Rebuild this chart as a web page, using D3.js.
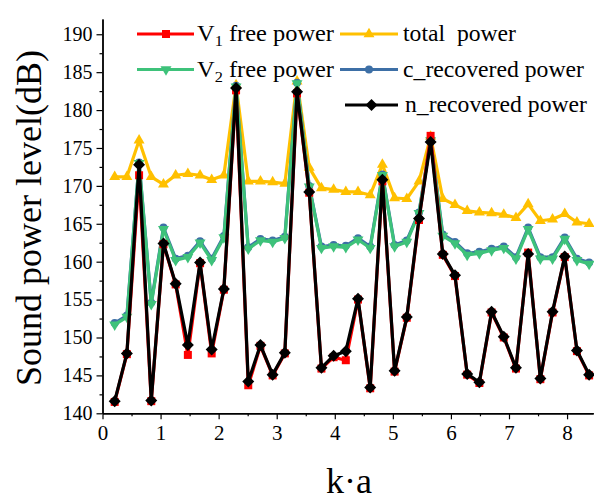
<!DOCTYPE html>
<html>
<head>
<meta charset="utf-8">
<script src="https://cdn.jsdelivr.net/npm/d3@7"></script>
<style>
  html, body { margin: 0; padding: 0; background: #fff; }
  svg { display: block; }
  text { font-family: "Liberation Serif", "Times New Roman", serif; fill: #000; white-space: pre; }
</style>
</head>
<body>
<svg id="chart" width="594" height="500"></svg>
<script>
// Dimensionless frequency k·a
const ka = [0.21, 0.42, 0.63, 0.84, 1.05, 1.26, 1.47, 1.68, 1.88, 2.09,
            2.30, 2.51, 2.72, 2.93, 3.14, 3.35, 3.56, 3.77, 3.98, 4.19,
            4.40, 4.61, 4.82, 5.03, 5.24, 5.45, 5.65, 5.86, 6.07, 6.28,
            6.49, 6.70, 6.91, 7.12, 7.33, 7.54, 7.75, 7.96, 8.17, 8.38];

// Sound power levels (dB)
const totalPower = [171.2, 171.2, 176.0, 171.2, 170.2, 171.4, 171.6, 171.4, 170.8, 171.4,
                    183.3, 170.6, 170.6, 170.5, 170.3, 183.8, 172.4, 169.7, 169.5, 169.2,
                    169.2, 168.8, 172.8, 168.4, 168.3, 170.6, 176.5, 168.3, 167.5, 166.7,
                    166.5, 166.4, 166.2, 165.8, 167.6, 165.4, 165.6, 166.3, 165.2, 165.0];

const v2Free = [151.7, 152.7, 173.0, 154.4, 164.3, 160.2, 160.6, 162.5, 160.2, 163.2,
                183.1, 161.7, 162.8, 162.6, 163.1, 183.5, 169.9, 161.8, 162.0, 161.9,
                162.9, 161.8, 171.4, 162.0, 162.6, 166.4, 176.0, 163.4, 162.4, 160.9,
                161.1, 161.5, 161.8, 160.4, 164.3, 160.4, 160.4, 163.0, 160.2, 159.7];

const cRecovered = [151.9, 152.9, 173.1, 154.6, 164.5, 160.4, 160.8, 162.7, 160.4, 163.4,
                    183.2, 161.9, 163.0, 162.8, 163.3, 183.6, 170.0, 162.0, 162.2, 162.1,
                    163.1, 162.0, 171.5, 162.2, 162.8, 166.5, 176.1, 163.6, 162.6, 161.1,
                    161.3, 161.7, 162.0, 160.6, 164.5, 160.6, 160.6, 163.2, 160.4, 159.9];

const v1Free = [141.5, 147.8, 171.4, 141.6, 162.3, 157.0, 147.7, 159.8, 147.9, 156.3,
                182.6, 143.7, 148.9, 145.0, 147.9, 182.2, 169.1, 145.9, 147.4, 147.0,
                155.0, 143.3, 170.6, 145.5, 152.6, 165.5, 176.6, 160.9, 158.1, 145.1,
                144.0, 153.3, 150.0, 145.9, 161.2, 144.5, 153.3, 160.6, 148.2, 145.0];

const nRecovered = [141.6, 147.9, 172.8, 141.7, 162.4, 157.1, 149.0, 159.9, 148.4, 156.4,
                    182.9, 144.2, 149.0, 145.1, 148.0, 182.4, 169.2, 146.0, 147.6, 148.2,
                    155.1, 143.4, 170.8, 145.6, 152.7, 165.7, 175.8, 161.0, 158.2, 145.2,
                    144.1, 153.4, 150.1, 146.0, 161.0, 144.6, 153.4, 160.7, 148.3, 145.1];

// Axis ticks
const xTicks = [0, 1, 2, 3, 4, 5, 6, 7, 8];
const xMinorTicks = [0.5, 1.5, 2.5, 3.5, 4.5, 5.5, 6.5, 7.5];
const yTicks = [140, 145, 150, 155, 160, 165, 170, 175, 180, 185, 190];
const yMinorTicks = [142.5, 147.5, 152.5, 157.5, 162.5, 167.5, 172.5, 177.5, 182.5, 187.5];

const svg = d3.select("#chart");
const SERIF = "Liberation Serif, Times New Roman, serif";

const x = d3.scaleLinear().domain([0, 8.45]).range([102.5, 593.2]);
const y = d3.scaleLinear().domain([140, 192]).range([413.3, 19.1]);

// Series styling, listed in drawing order (back to front)
const series = [
  { name: "total  power",      values: totalPower, color: "#ffc000", shape: "triUp",   legend: [340, 34, 403] },
  { name: "c_recovered power", values: cRecovered, color: "#3d6fa6", shape: "circle",  legend: [340, 69.5, 403] },
  { name: "V2 free power",     values: v2Free,     color: "#3ec27a", shape: "triDown", legend: [137, 69.5, 197], sub: "2" },
  { name: "V1 free power",     values: v1Free,     color: "#ff0000", shape: "square",  legend: [137, 34, 197], sub: "1" },
  { name: "n_recovered power", values: nRecovered, color: "#000000", shape: "diamond", legend: [345, 105, 405] }
];

function marker(sel, shape, color) {
  if (shape === "square") {
    sel.append("path").attr("d", d3.symbol(d3.symbolSquare, 64)()).attr("fill", color);
  } else if (shape === "diamond") {
    sel.append("path").attr("d", d3.symbol(d3.symbolSquare, 72)()).attr("transform", "rotate(45)").attr("fill", color);
  } else if (shape === "triUp") {
    sel.append("path").attr("d", d3.symbol(d3.symbolTriangle, 52)()).attr("fill", color);
  } else if (shape === "triDown") {
    sel.append("path").attr("d", d3.symbol(d3.symbolTriangle, 52)()).attr("transform", "rotate(180)").attr("fill", color);
  } else {
    sel.append("path").attr("d", d3.symbol(d3.symbolCircle, 50)()).attr("fill", color);
  }
}

const line = d3.line().x(d => x(d[0])).y(d => y(d[1]));

series.forEach(s => {
  const pts = ka.map((k, i) => [k, s.values[i]]);
  const g = svg.append("g");
  g.append("path").datum(pts)
    .attr("d", line).attr("fill", "none")
    .attr("stroke", s.color).attr("stroke-width", 3.2).attr("stroke-linejoin", "round");
  g.selectAll("g.pt").data(pts).join("g")
    .attr("class", "pt")
    .attr("transform", d => `translate(${x(d[0])},${y(d[1])})`)
    .each(function() { marker(d3.select(this), s.shape, s.color); });
});

// Axes
const xAxis = svg.append("g").attr("transform", `translate(0,${y(140)})`)
  .call(d3.axisBottom(x).tickValues(xTicks).tickFormat(d3.format("d")).tickSize(6).tickSizeOuter(0).tickPadding(6));
svg.append("g").attr("transform", `translate(0,${y(140)})`)
  .call(d3.axisBottom(x).tickValues(xMinorTicks).tickFormat("").tickSize(3).tickSizeOuter(0));
const yAxis = svg.append("g").attr("transform", `translate(${x(0)},0)`)
  .call(d3.axisLeft(y).tickValues(yTicks).tickFormat(d3.format("d")).tickSize(6).tickSizeOuter(0).tickPadding(4));
svg.append("g").attr("transform", `translate(${x(0)},0)`)
  .call(d3.axisLeft(y).tickValues(yMinorTicks).tickFormat("").tickSize(3).tickSizeOuter(0));

svg.selectAll(".domain").attr("stroke", "#000").attr("stroke-width", 1.4);
svg.selectAll(".tick line").attr("stroke", "#000").attr("stroke-width", 1.2);
xAxis.selectAll(".tick text").attr("font-size", 21).attr("font-family", SERIF);
yAxis.selectAll(".tick text").attr("font-size", 20).attr("font-family", SERIF);

// Axis titles
svg.append("text")
  .attr("x", 349).attr("y", 493)
  .attr("text-anchor", "middle").attr("font-size", 36).attr("font-family", SERIF)
  .text("k·a");
svg.append("text")
  .attr("transform", "translate(41,218) rotate(-90)")
  .attr("text-anchor", "middle").attr("font-size", 36).attr("font-family", SERIF)
  .text("Sound power level(dB)");

// Legend
const legendWidths = { "total  power": 113, "c_recovered power": 181, "V2 free power": 137, "V1 free power": 137, "n_recovered power": 182 };
const legendOrder = [series[3], series[0], series[2], series[1], series[4]];
legendOrder.forEach(s => {
  const [lx, ly, tx] = s.legend;
  const g = svg.append("g");
  g.append("line").attr("x1", lx).attr("x2", 398).attr("y1", ly).attr("y2", ly)
    .attr("stroke", s.color).attr("stroke-width", 3.2);
  if (s.sub) { g.select("line").attr("x2", 194); }
  const mx = s.sub ? 166 : (lx + 398) / 2;
  const m = g.append("g").attr("transform", `translate(${mx},${ly})`);
  marker(m, s.shape, s.color);
  const t = g.append("text").attr("x", tx).attr("y", ly + 7).attr("font-size", 22.5)
    .attr("font-family", SERIF)
    .attr("textLength", legendWidths[s.name]).attr("lengthAdjust", "spacingAndGlyphs");
  if (s.sub) {
    t.append("tspan").text("V");
    t.append("tspan").attr("font-size", 15).attr("dy", 5).text(s.sub);
    t.append("tspan").attr("dy", -5).text(" free power");
  } else {
    t.text(s.name);
  }
});
</script>
</body>
</html>
